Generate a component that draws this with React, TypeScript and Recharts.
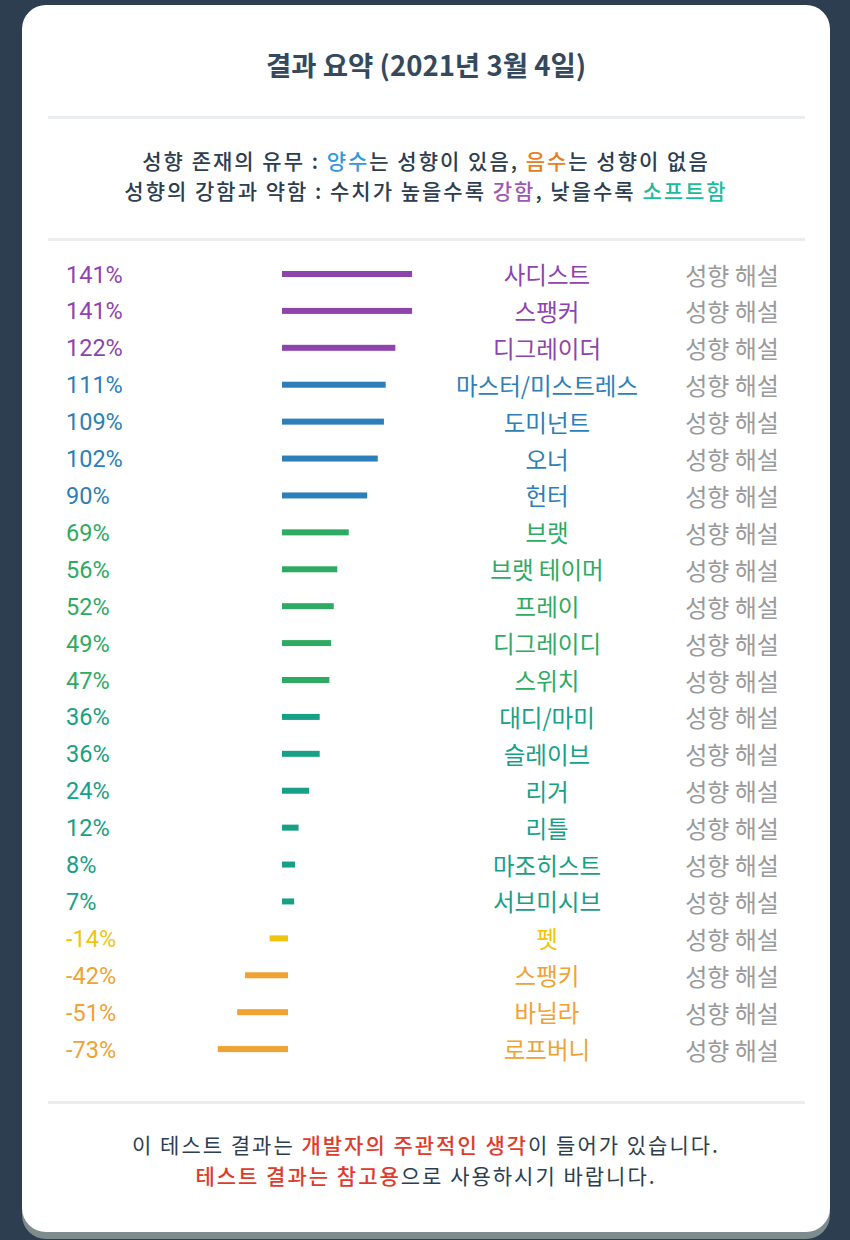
import React from 'react';
import { BarChart, Bar, XAxis, YAxis, Cell, LabelList } from 'recharts';

const categories = [
  '사디스트', '스팽커', '디그레이더', '마스터/미스트레스', '도미넌트', '오너', '헌터',
  '브랫', '브랫 테이머', '프레이', '디그레이디', '스위치', '대디/마미', '슬레이브',
  '리거', '리틀', '마조히스트', '서브미시브', '펫', '스팽키', '바닐라', '로프버니',
];
const values = [141, 141, 122, 111, 109, 102, 90, 69, 56, 52, 49, 47, 36, 36, 24, 12, 8, 7, -14, -42, -51, -73];
const detailLabel = '성향 해설';

const rows = categories.map((name, i) => ({ name, value: values[i] }));

function colorFor(v: number): string {
  if (v >= 120) return '#8e44ad';
  if (v >= 90) return '#2c7fb8';
  if (v >= 45) return '#2eaa62';
  if (v >= 0) return '#17a085';
  if (v > -20) return '#f1c40f';
  return '#f0a232';
}

const KR = "'Noto Sans CJK KR', 'Noto Sans', sans-serif";
const NUM = "Roboto, 'Noto Sans CJK KR', sans-serif";

const LineBar = (props: any) => {
  const { x, y, width, height, fill } = props;
  const x0 = Math.min(x, x + width);
  const w = Math.abs(width);
  return <rect x={x0 - 3} y={y} width={w + 6} height={height} fill={fill} />;
};

const RowLabels = (props: any) => {
  const { y, height, index } = props;
  const cy = y + height / 2;
  const v = values[index];
  const c = colorFor(v);
  return (
    <g>
      <text x={66} y={cy + 8.5} fill={c} fontFamily={NUM} fontSize={23.5} textAnchor="start">{`${v}%`}</text>
      <text x={547} y={cy + 10} fill={c} fontFamily={KR} fontSize={23.5} textAnchor="middle">{categories[index]}</text>
      <text x={732} y={cy + 10.5} fill="#9a9a9a" fontFamily={KR} fontSize={24} textAnchor="middle">{detailLabel}</text>
    </g>
  );
};

const sep = (top: number) => (
  <div style={{ position: 'absolute', left: 48, top, width: 757, height: 3, background: '#ebeef0' }} />
);

const para = {
  position: 'absolute' as const,
  left: 22,
  width: 808,
  lineHeight: '30.5px',
  textAlign: 'center' as const,
  fontFamily: KR,
  fontSize: 21,
  letterSpacing: '2px',
  color: '#2c3e50',
};

export default function App() {
  return (
    <div style={{ position: 'absolute', left: 0, top: 0, width: 850, height: 1240, background: '#2c3e50', overflow: 'hidden' }}>
      <div style={{ position: 'absolute', left: 22, top: 5, width: 808, height: 1227, background: '#ffffff', borderRadius: 24, boxShadow: '0 7px 0 #7f8c8d' }} />
      <div style={{ position: 'absolute', left: 22, width: 808, top: 47, lineHeight: '34px', textAlign: 'center', fontFamily: KR, fontSize: 27.5, fontWeight: 700, color: '#34495e' }}>
        결과 요약 (2021년 3월 4일)
      </div>
      {sep(116)}
      <div style={{ ...para, top: 144.5, fontWeight: 500 }}>
        <div>성향 존재의 유무 : <span style={{ color: '#3498db' }}>양수</span>는 성향이 있음, <span style={{ color: '#e67e22' }}>음수</span>는 성향이 없음</div>
        <div>성향의 강함과 약함 : 수치가 높을수록 <span style={{ color: '#9b59b6' }}>강함</span>, 낮을수록 <span style={{ color: '#1abc9c' }}>소프트함</span></div>
      </div>
      {sep(238)}
      {sep(1101)}
      <div style={{ ...para, top: 1129, fontWeight: 400 }}>
        <div>이 테스트 결과는 <span style={{ color: '#dd3b2c', fontWeight: 500 }}>개발자의 주관적인 생각</span>이 들어가 있습니다.</div>
        <div><span style={{ color: '#dd3b2c', fontWeight: 500 }}>테스트 결과는 참고용</span>으로 사용하시기 바랍니다.</div>
      </div>
      <div style={{ position: 'absolute', left: 0, top: 0 }}>
        <BarChart
          width={850}
          height={1240}
          data={rows}
          layout="vertical"
          margin={{ top: 256, bottom: 172, left: 65, right: 37 }}
        >
          <XAxis type="number" domain={[-250, 600]} hide />
          <YAxis type="category" dataKey="name" hide />
          <Bar dataKey="value" barSize={6} isAnimationActive={false} shape={<LineBar />}>
            {rows.map((r, i) => (
              <Cell key={i} fill={colorFor(r.value)} />
            ))}
            <LabelList dataKey="name" content={<RowLabels />} />
          </Bar>
        </BarChart>
      </div>
    </div>
  );
}
